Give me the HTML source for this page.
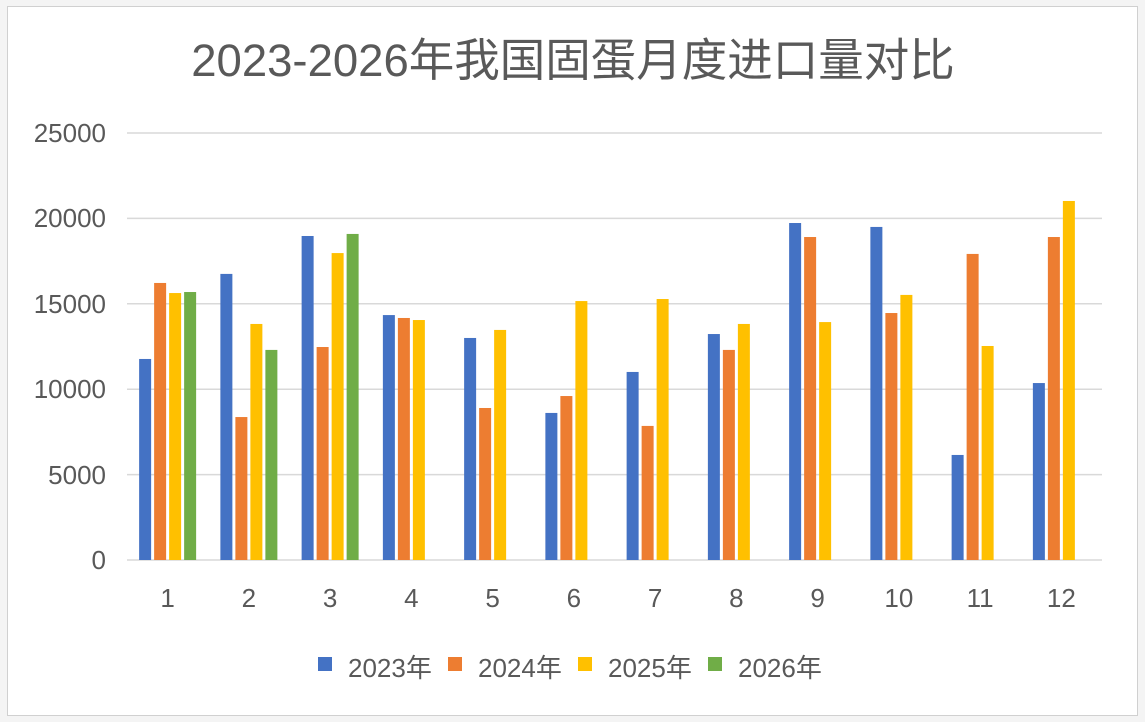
<!DOCTYPE html>
<html><head><meta charset="utf-8"><style>
body{margin:0;background:#fff;width:1145px;height:722px;overflow:hidden}
</style></head><body>
<svg width="1145" height="722" xmlns="http://www.w3.org/2000/svg" font-family="Liberation Sans, Noto Sans CJK SC, sans-serif">
<rect x="0" y="0" width="1145" height="722" fill="#f4f4f4"/>
<rect x="7.5" y="6.5" width="1130" height="709" fill="#fff" stroke="#d0d0d0"/>
<text x="573" y="76" text-anchor="middle" font-size="45.5" fill="#595959">2023-2026年我国固蛋月度进口量对比</text>
<g stroke="#d9d9d9" stroke-width="1.5">
<line x1="127" x2="1102" y1="133" y2="133"/><line x1="127" x2="1102" y1="218.4" y2="218.4"/>
<line x1="127" x2="1102" y1="303.8" y2="303.8"/><line x1="127" x2="1102" y1="389.2" y2="389.2"/>
<line x1="127" x2="1102" y1="474.6" y2="474.6"/><line x1="127" x2="1102" y1="560" y2="560"/>
</g>
<g font-size="26" fill="#595959" text-anchor="end">
<text x="106" y="142">25000</text><text x="106" y="227">20000</text><text x="106" y="313">15000</text>
<text x="106" y="398">10000</text><text x="106" y="484">5000</text><text x="106" y="569">0</text>
</g>
<g id="bars"></g>
<g font-size="26" fill="#595959" text-anchor="middle" id="xl"></g>
<g font-size="26" fill="#595959">
<rect x="318" y="657" width="14" height="14" fill="#4472C4"/><text x="348" y="677">2023年</text>
<rect x="448" y="657" width="14" height="14" fill="#ED7D31"/><text x="478" y="677">2024年</text>
<rect x="578" y="657" width="14" height="14" fill="#FFC000"/><text x="608" y="677">2025年</text>
<rect x="708" y="657" width="14" height="14" fill="#70AD47"/><text x="738" y="677">2026年</text>
</g>
</svg>
<script>
var d=[[11770,16220,15630,15690],[16750,8370,13820,12300],[18970,12470,17970,19090],[14340,14170,14050],[13000,8900,13470],[8610,9600,15160],[11010,7850,15280],[13230,12300,13820],[19730,18910,13930],[19500,14460,15520],[6150,17920,12530],[10360,18910,21020]];
var c=["#4472C4","#ED7D31","#FFC000","#70AD47"],ns="http://www.w3.org/2000/svg";
var g=document.getElementById("bars"),xl=document.getElementById("xl");
d.forEach(function(v,i){var cx=127+81.25*(i+0.5);
v.forEach(function(val,j){var h=val/25000*427;var r=document.createElementNS(ns,"rect");
r.setAttribute("x",cx-28.5+j*15);r.setAttribute("y",560-h);r.setAttribute("width",12);r.setAttribute("height",h);r.setAttribute("fill",c[j]);g.appendChild(r);});
var t=document.createElementNS(ns,"text");t.setAttribute("x",cx);t.setAttribute("y",607);t.textContent=i+1;xl.appendChild(t);});
</script>
</body></html>
